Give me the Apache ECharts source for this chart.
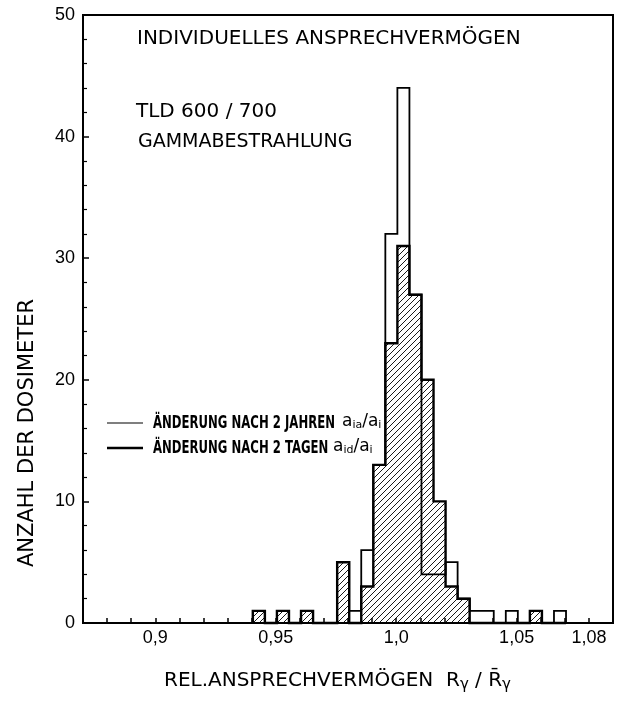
<!DOCTYPE html>
<html>
<head>
<meta charset="utf-8">
<script src="https://cdn.jsdelivr.net/npm/echarts@6/dist/echarts.min.js"></script>
<style>
html, body { margin: 0; padding: 0; background: #fff; }
#main { width: 617px; height: 707px; }
</style>
</head>
<body>
<div id="main"></div>
<script>
// Klassenmitten der Histogramme (Breite 0,005)
var binCenters = [0.943, 0.948, 0.953, 0.958, 0.963, 0.968, 0.973, 0.978, 0.983, 0.988,
  0.993, 0.998, 1.003, 1.008, 1.013, 1.018, 1.023, 1.028, 1.033, 1.038,
  1.043, 1.048, 1.053, 1.058, 1.063, 1.068];
var binWidth = 0.005;
// Änderung nach 2 Jahren (dünne Linie, offen)
var nachJahren = [1, 0, 1, 0, 1, 0, 0, 5, 1, 6, 13, 32, 44, 27, 4, 4, 5, 2, 1, 1, 0, 1, 0, 1, 0, 1];
// Änderung nach 2 Tagen (dicke Linie, schraffiert)
var nachTagen = [1, 0, 1, 0, 1, 0, 0, 5, 0, 3, 13, 23, 31, 27, 20, 10, 3, 2, 0, 0, 0, 0, 0, 1, 0, 0];
var xTickValues = [0.9, 0.95, 1.0, 1.05, 1.08];
var xTickLabels = ['0,9', '0,95', '1,0', '1,05', '1,08'];

var FONT = '"DejaVu Sans", "Liberation Sans", sans-serif';
var FONT_T = '"Liberation Sans", Arial, sans-serif';
var FONT_N = '"DejaVu Sans Condensed", "Liberation Sans Narrow", "DejaVu Sans", sans-serif';

function hatchPattern() {
  var c = document.createElement('canvas');
  c.width = 6; c.height = 6;
  var g = c.getContext('2d');
  g.strokeStyle = '#000';
  g.lineWidth = 0.9;
  g.beginPath();
  g.moveTo(0, 6); g.lineTo(6, 0);
  g.moveTo(-1, 1); g.lineTo(1, -1);
  g.moveTo(5, 7); g.lineTo(7, 5);
  g.stroke();
  return c;
}

// Treppenlinie aus den Klassen
function stepPoints(vals) {
  var pts = [[binCenters[0] - binWidth / 2, 0]];
  for (var i = 0; i < vals.length; i++) {
    var l = binCenters[i] - binWidth / 2, r = binCenters[i] + binWidth / 2;
    pts.push([l, vals[i]]);
    pts.push([r, vals[i]]);
  }
  pts.push([binCenters[vals.length - 1] + binWidth / 2, 0]);
  return pts;
}

function histSeries(vals, fill, width) {
  var pts = stepPoints(vals);
  return {
    type: 'custom',
    data: [[0, 0]],
    silent: true,
    renderItem: function (params, api) {
      var p = pts.map(function (d) { return api.coord(d); });
      if (fill) {
        return { type: 'polygon', shape: { points: p }, style: { fill: { image: hatchPattern(), repeat: 'repeat' }, stroke: null } };
      }
      return { type: 'polyline', shape: { points: p }, style: { fill: null, stroke: '#000', lineWidth: width, lineJoin: 'miter' } };
    }
  };
}

var formulaRich = {
  a: { font: '17px ' + FONT, fill: '#000' },
  s: { font: '11px ' + FONT, fill: '#000', verticalAlign: 'bottom', padding: [6, 0, 0, 0] }
};

var chart = echarts.init(document.getElementById('main'));
chart.setOption({
  animation: false,
  backgroundColor: '#fff',
  grid: { left: 83, top: 15, right: 4, bottom: 84, show: true, borderColor: '#000', borderWidth: 2 },
  xAxis: {
    type: 'value', min: 0.87, max: 1.09, interval: 0.01,
    axisLine: { lineStyle: { color: '#000', width: 2 } },
    axisTick: { inside: true, length: 5, lineStyle: { color: '#000', width: 1.5 } },
    splitLine: { show: false },
    axisLabel: {
      color: '#000', fontSize: 18, fontFamily: FONT_T, margin: 6,
      formatter: function (v) {
        for (var i = 0; i < xTickValues.length; i++) {
          if (Math.abs(v - xTickValues[i]) < 1e-6) return xTickLabels[i];
        }
        return '';
      }
    }
  },
  yAxis: {
    type: 'value', min: 0, max: 50, interval: 10,
    axisLine: { show: true, lineStyle: { color: '#000', width: 2 } },
    axisTick: { show: true, inside: true, length: 6, lineStyle: { color: '#000', width: 1.5 } },
    minorTick: { show: true, splitNumber: 5, length: 4, lineStyle: { color: '#000', width: 1.2 } },
    splitLine: { show: false },
    axisLabel: { color: '#000', fontSize: 18, fontFamily: FONT_T, margin: 8 }
  },
  series: [
    histSeries(nachTagen, true, 0),
    histSeries(nachJahren, false, 1.8),
    histSeries(nachTagen, false, 2.4)
  ],
  graphic: [
    { type: 'text', left: 137, top: 29, style: { text: 'INDIVIDUELLES ANSPRECHVERMÖGEN', font: '20px ' + FONT, fill: '#000', letterSpacing: 0.8 } },
    { type: 'text', left: 136, top: 102, style: { text: 'TLD 600 / 700', font: '20px ' + FONT, fill: '#000' } },
    { type: 'text', left: 138, top: 133, style: { text: 'GAMMABESTRAHLUNG', font: '19px ' + FONT, fill: '#000' } },
    { type: 'line', shape: { x1: 107, y1: 423, x2: 143, y2: 423 }, style: { stroke: '#000', lineWidth: 1.2 } },
    { type: 'line', shape: { x1: 107, y1: 448, x2: 143, y2: 448 }, style: { stroke: '#000', lineWidth: 2.4 } },
    { type: 'text', x: 153, y: 423, scaleY: 1.35, style: { text: 'ÄNDERUNG NACH 2 JAHREN', font: 'bold 13px ' + FONT_N, fill: '#000', verticalAlign: 'middle' } },
    { type: 'text', x: 153, y: 448, scaleY: 1.35, style: { text: 'ÄNDERUNG NACH 2 TAGEN', font: 'bold 13px ' + FONT_N, fill: '#000', verticalAlign: 'middle' } },
    { type: 'text', x: 342, y: 422, style: { text: '{a|a}{s|ia}{a|/a}{s|i}', rich: formulaRich, verticalAlign: 'middle' } },
    { type: 'text', x: 333, y: 447, style: { text: '{a|a}{s|id}{a|/a}{s|i}', rich: formulaRich, verticalAlign: 'middle' } },
    { type: 'text', left: 164, top: 671, style: {
      text: '{t|REL.ANSPRECHVERMÖGEN}{g|  }{t|R}{s|γ}{t| / R\u0304}{s|γ}',
      rich: {
        t: { font: '20px ' + FONT, fill: '#000', letterSpacing: 1 },
        g: { font: '20px ' + FONT, fill: '#000' },
        s: { font: '15px ' + FONT, fill: '#000', verticalAlign: 'bottom', padding: [8, 0, 0, 0] }
      } } },
    { type: 'text', x: 28, y: 433, rotation: Math.PI / 2, style: {
      text: 'ANZAHL DER DOSIMETER', font: '21px ' + FONT, fill: '#000', letterSpacing: 1.5, align: 'center', verticalAlign: 'middle' } }
  ]
});
</script>
</body>
</html>
